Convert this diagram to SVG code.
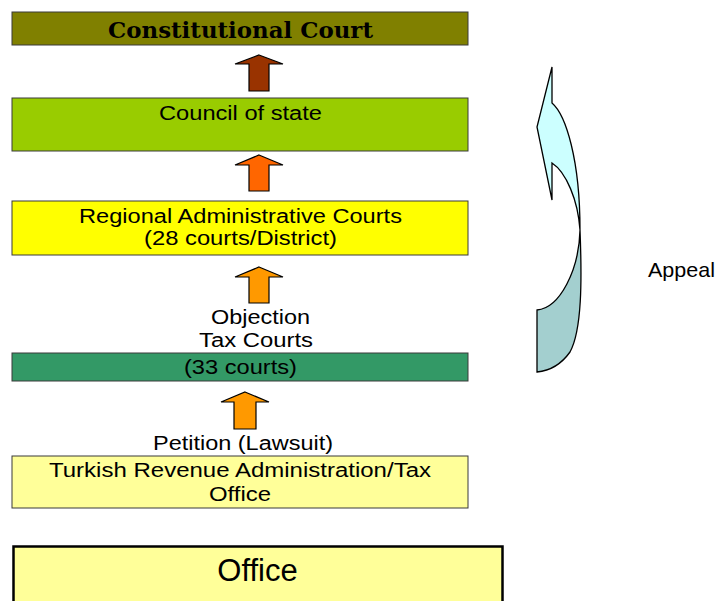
<svg xmlns="http://www.w3.org/2000/svg" width="722" height="601" viewBox="0 0 722 601">
<style>
.box{stroke:#3a3a3a;stroke-width:1}
.t{font-family:"Liberation Sans",Arial,sans-serif;font-size:20px;fill:#000;text-anchor:middle}
.arr{stroke:#000;stroke-width:1.2;stroke-linejoin:miter}
.curve{stroke:#000;stroke-width:1.3;stroke-linejoin:miter}
</style>
<rect width="722" height="601" fill="#fff"/>
<g id="constitutional-court">
<rect class="box" x="12" y="12" width="456" height="33" fill="#808000"/>
<text x="240.5" y="37.5" font-family="'DejaVu Serif','Liberation Serif',serif" font-weight="bold" font-size="22" text-anchor="middle" textLength="265" lengthAdjust="spacingAndGlyphs">Constitutional Court</text>
</g>
<g id="council-of-state">
<rect class="box" x="12" y="98" width="456" height="53" fill="#99CC00"/>
<text class="t" x="240.5" y="120" textLength="163" lengthAdjust="spacingAndGlyphs">Council of state</text>
</g>
<g id="regional-courts">
<rect class="box" x="12" y="201" width="456" height="54" fill="#FFFF00"/>
<text class="t" x="240.5" y="222.7" textLength="323" lengthAdjust="spacingAndGlyphs">Regional Administrative Courts</text>
<text class="t" x="240.5" y="244.5" textLength="193" lengthAdjust="spacingAndGlyphs">(28 courts/District)</text>
</g>
<g id="tax-courts">
<text class="t" x="260.5" y="324" textLength="99" lengthAdjust="spacingAndGlyphs">Objection</text>
<text class="t" x="256" y="346.7" textLength="114" lengthAdjust="spacingAndGlyphs">Tax Courts</text>
<rect class="box" x="12" y="353" width="456" height="28" fill="#339966"/>
<text class="t" x="240.5" y="374" textLength="113" lengthAdjust="spacingAndGlyphs">(33 courts)</text>
</g>
<g id="tax-office">
<text class="t" x="243" y="450" textLength="180" lengthAdjust="spacingAndGlyphs">Petition (Lawsuit)</text>
<rect class="box" x="12" y="456" width="456" height="52" fill="#FFFF99"/>
<text class="t" x="240" y="477" textLength="382" lengthAdjust="spacingAndGlyphs">Turkish Revenue Administration/Tax</text>
<text class="t" x="240" y="500.7" textLength="62" lengthAdjust="spacingAndGlyphs">Office</text>
</g>
<g id="office">
<rect x="13.5" y="546.5" width="489" height="70" fill="#FFFF99" stroke="#000" stroke-width="2.5"/>
<text x="257.5" y="581" font-family="'Liberation Sans',Arial,sans-serif" font-size="31" text-anchor="middle">Office</text>
</g>
<g id="connectors">
<polygon class="arr" fill="#993300" points="259,55 283,64 269,64 269,91 249,91 249,64 235,64"/>
<polygon class="arr" fill="#FF6600" points="259,155 283,165 269,165 269,191 249,191 249,165 235,165"/>
<polygon class="arr" fill="#FF9900" points="259,267 283,277 269,277 269,303 249,303 249,277 235,277"/>
<polygon class="arr" fill="#FF9900" points="245,392 269,402 256,402 256,429 234,429 234,402 221,402"/>
</g>
<g id="appeal">
<path class="curve" fill="#A3CFCF" d="M537,310 C560,308 579,270 580,230 C582,280 582,330 570,352 C560,366 548,371 537,372 Z"/>
<path class="curve" fill="#CCFFFF" d="M552,67 L552,103 C566,115 580,160 580,230 C578,200 566,172 552,163 L552,200 L537,127 Z"/>
<text x="648" y="276.7" font-family="'Liberation Sans',Arial,sans-serif" font-size="21" textLength="67" lengthAdjust="spacingAndGlyphs">Appeal</text>
</g>
</svg>
